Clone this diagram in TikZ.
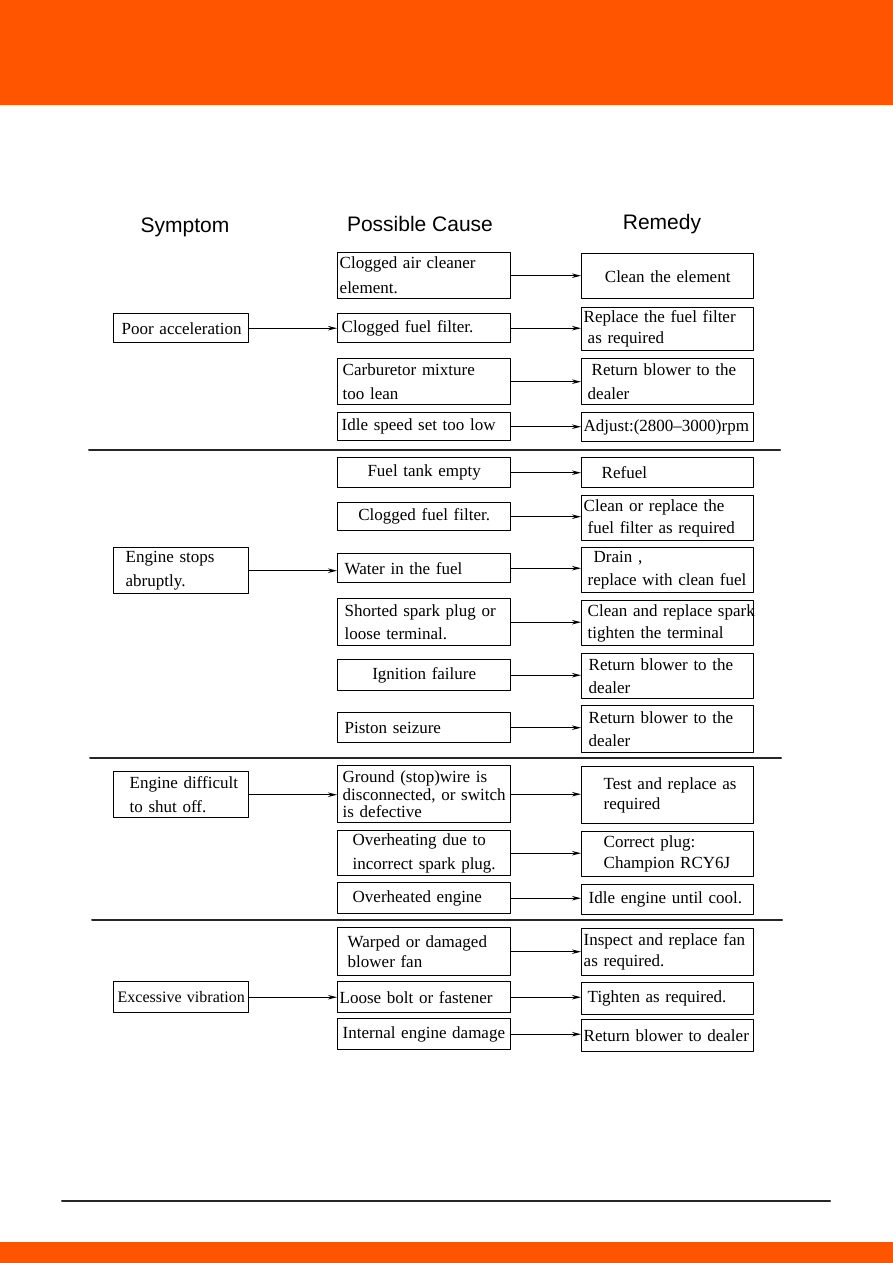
\documentclass[tikz,border=0pt]{standalone}
\usepackage{fontspec}
\setmainfont{Liberation Serif}
\newfontfamily\headfont{Liberation Sans}
\usetikzlibrary{arrows.meta}
\definecolor{bandorange}{RGB}{255,84,0}
\begin{document}
\begin{tikzpicture}[
  x=1pt,
  y=-1pt,
  line cap=round,
  line join=round,
  box/.style={
    draw,
    line width=1.4pt,
    anchor=north west,
    inner xsep=2pt,
    inner ysep=0pt,
    align=left,
    font=\fontsize{17}{23.5}\selectfont
  },
  cause/.style={box, text width=169pt},
  remedy/.style={box, text width=168pt},
  symptom/.style={box, text width=131pt},
  lpad/.style={execute at begin node={\leftskip=#1\relax}},
  link/.style={
    line width=1.3pt,
    -{Stealth[length=9pt, width=4.5pt]}
  },
  head/.style={font=\headfont\fontsize{21}{24}\selectfont},
  rule/.style={line width=2pt, draw=black!85}
]
  \useasboundingbox (0,0) rectangle (893,1263);

  % Page bands
  \fill[bandorange] (0,0) rectangle (893,105);
  \fill[bandorange] (0,1242) rectangle (893,1263);
  \draw[rule] (62,1200.5) -- (830,1200.5);

  % Column heads
  \node[head] (hsym) at (185,227) {Symptom};
  \node[head] (hcause) at (420,224) {Possible Cause};
  \node[head] (hrem) at (662,224) {Remedy};

  % Poor acceleration
  \node[symptom, minimum height=29pt, lpad=6pt] (s1) at (113,313) {Poor acceleration};
  \node[cause, minimum height=46pt, font=\fontsize{17}{25}\selectfont] (c1) at (337,252) {Clogged air cleaner\\element.};
  \node[remedy, minimum height=45pt, align=center] (r1) at (581,253) {Clean the element\\[4pt]};
  \node[cause, minimum height=29pt, lpad=2pt] (c2) at (337,313) {Clogged fuel filter.};
  \node[remedy, minimum height=43pt, font=\fontsize{17}{21}\selectfont] (r2) at (581,307) {Replace the fuel filter\\\hspace*{4pt}as required};
  \node[cause, minimum height=46pt, lpad=3pt] (c3) at (337,358) {Carburetor mixture\\too lean};
  \node[remedy, minimum height=46pt, lpad=4pt] (r3) at (581,358) {\hspace*{4pt}Return blower to the\\dealer};
  \node[cause, minimum height=28pt, lpad=2pt] (c4) at (337,412) {Idle speed set too low};
  \node[remedy, minimum height=29pt] (r4) at (581,412) {Adjust:(2800--3000)rpm};

  \draw[rule] (89,450) -- (780,450);

  % Engine stops abruptly
  \node[symptom, minimum height=46pt, lpad=10pt] (s2) at (113,547) {Engine stops\\abruptly.};
  \node[cause, minimum height=30pt, align=center] (c5) at (337,457) {Fuel tank empty};
  \node[remedy, minimum height=30pt, lpad=18pt] (r5) at (581,457) {Refuel};
  \node[cause, minimum height=28pt, align=center] (c6) at (337,502) {Clogged fuel filter.};
  \node[remedy, minimum height=45pt, font=\fontsize{17}{22}\selectfont] (r6) at (581,495) {Clean or replace the\\\hspace*{4pt}fuel filter as required};
  \node[cause, minimum height=29pt, lpad=5pt] (c7) at (337,553) {Water in the fuel};
  \node[remedy, minimum height=45pt, lpad=4pt] (r7) at (581,547) {\hspace*{6pt}Drain ,\\replace with clean fuel};
  \node[cause, minimum height=47pt, lpad=5pt] (c8) at (337,598) {Shorted spark plug or\\loose terminal.};
  \node[remedy, minimum height=45pt, lpad=4pt, font=\fontsize{17}{22}\selectfont] (r8) at (581,600) {\mbox{Clean and replace spark}\\tighten the terminal};
  \node[cause, minimum height=31pt, align=center] (c9) at (337,659) {Ignition failure};
  \node[remedy, minimum height=45pt, lpad=5pt] (r9) at (581,653) {Return blower to the\\dealer};
  \node[cause, minimum height=30pt, lpad=5pt] (c10) at (337,712) {Piston seizure};
  \node[remedy, minimum height=47pt, lpad=5pt] (r10) at (581,705) {Return blower to the\\dealer};

  \draw[rule] (90,758) -- (781,758);

  % Engine difficult to shut off
  \node[symptom, minimum height=46pt, lpad=14pt] (s3) at (113,771) {Engine difficult\\to shut off.};
  \node[cause, minimum height=57pt, lpad=3pt, font=\fontsize{17}{17.5}\selectfont] (c11) at (337,765) {Ground (stop)wire is\\disconnected, or switch\\is defective};
  \node[remedy, minimum height=57pt, lpad=20pt, font=\fontsize{17}{20}\selectfont] (r11) at (581,766) {Test and replace as\\required\\[6pt]};
  \node[cause, minimum height=45pt, lpad=13pt] (c12) at (337,830) {Overheating due to\\incorrect spark plug.};
  \node[remedy, minimum height=45pt, lpad=20pt, font=\fontsize{17}{21}\selectfont] (r12) at (581,831) {Correct plug:\\Champion RCY6J};
  \node[cause, minimum height=31pt, lpad=13pt] (c13) at (337,882) {Overheated engine};
  \node[remedy, minimum height=30pt, lpad=5pt] (r13) at (581,884) {Idle engine until cool.};

  \draw[rule] (92,920) -- (782,920);

  % Excessive vibration
  \node[symptom, minimum height=31pt, align=center, font=\fontsize{16}{20}\selectfont] (s4) at (113,981) {Excessive vibration};
  \node[cause, minimum height=48pt, lpad=8pt, font=\fontsize{17}{20}\selectfont] (c14) at (337,927) {Warped or damaged\\blower fan};
  \node[remedy, minimum height=47pt, font=\fontsize{17}{21}\selectfont] (r14) at (581,928) {Inspect and replace fan\\as required.};
  \node[cause, minimum height=31pt] (c15) at (337,981) {Loose bolt or fastener};
  \node[remedy, minimum height=32pt, lpad=4pt] (r15) at (581,982) {Tighten as required.};
  \node[cause, minimum height=31pt, lpad=3pt] (c16) at (337,1018) {Internal engine damage};
  \node[remedy, minimum height=32pt] (r16) at (581,1019) {Return blower to dealer};

  % Connectors
  \foreach \i in {1,...,16}
    \draw[link] (c\i.east) -- (c\i.east -| r\i.west);
  \draw[link] (s1.east) -- (s1.east -| c2.west);
  \draw[link] (s2.east) -- (s2.east -| c7.west);
  \draw[link] (s3.east) -- (s3.east -| c11.west);
  \draw[link] (s4.east) -- (s4.east -| c15.west);
\end{tikzpicture}
\end{document}
